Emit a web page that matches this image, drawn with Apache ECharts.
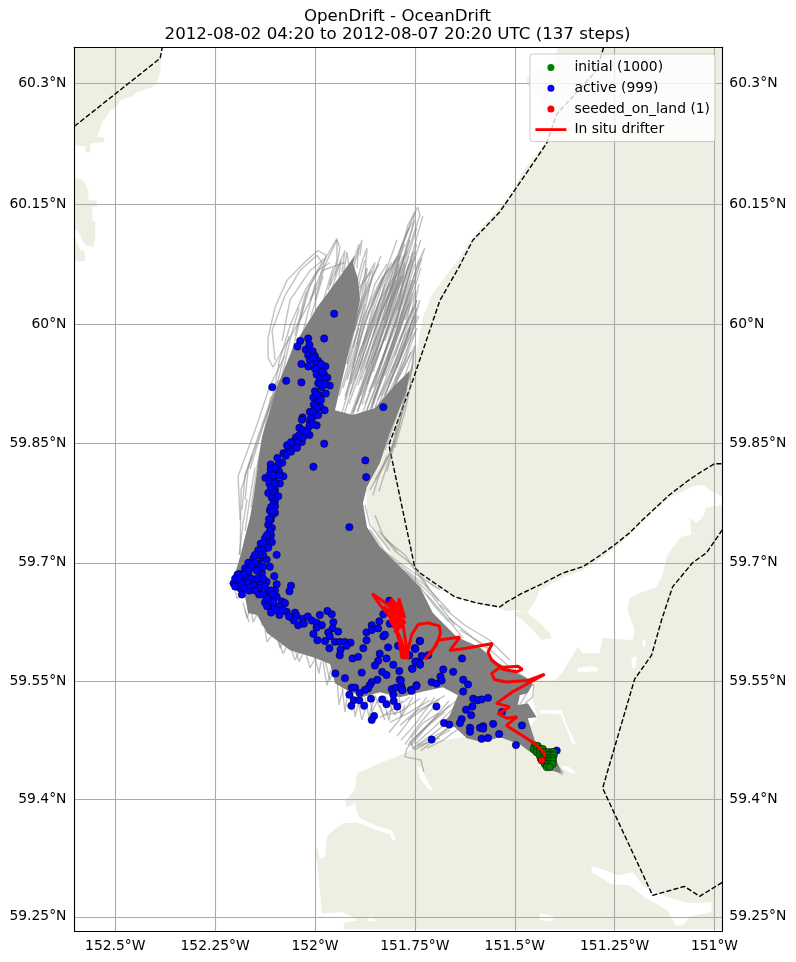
<!DOCTYPE html>
<html><head><meta charset="utf-8">
<style>html,body{margin:0;padding:0;background:#fff}#c{width:796px;height:962px}</style>
<script src="https://cdn.jsdelivr.net/npm/echarts@6/dist/echarts.min.js"></script>
</head><body><div id="c"></div>
<script>
const titleText = 'OpenDrift - OceanDrift\n2012-08-02 04:20 to 2012-08-07 20:20 UTC (137 steps)';
const lonTicks = [-152.5,-152.25,-152,-151.75,-151.5,-151.25,-151];
const lonTickLabels = ['152.5°W','152.25°W','152°W','151.75°W','151.5°W','151.25°W','151°W'];
const latTicks = [60.3,60.15,60,59.85,59.7,59.55,59.4,59.25];
const latTickLabels = ['60.3°N','60.15°N','60°N','59.85°N','59.7°N','59.55°N','59.4°N','59.25°N'];
const lonMin=-152.602, lonMax=-150.9805, latMin=59.2314, latMax=60.3446;

const land = [
 [[-152.602,60.3446],[-152.3825,60.3446],[-152.3875,60.316],[-152.395,60.3],[-152.4075,60.295],[-152.445,60.289],[-152.4625,60.283],[-152.4875,60.279],[-152.4975,60.27],[-152.5125,60.2665],[-152.52,60.26],[-152.5325,60.252],[-152.5375,60.244],[-152.545,60.233],[-152.5275,60.233],[-152.5275,60.227],[-152.5625,60.2256],[-152.5625,60.2144],[-152.575,60.2144],[-152.575,60.222],[-152.602,60.222]],
 [[-152.602,60.1834],[-152.58,60.1797],[-152.5675,60.1673],[-152.5675,60.155],[-152.545,60.1537],[-152.545,60.1475],[-152.5575,60.146],[-152.5575,60.13],[-152.55,60.1274],[-152.55,60.1086],[-152.555,60.096],[-152.575,60.0987],[-152.595,60.1174],[-152.602,60.1174]],
 [[-152.602,60.1086],[-152.5925,60.1],[-152.5875,60.0923],[-152.5775,60.0923],[-152.575,60.0785],[-152.602,60.0785]],
 [[-150.9805,60.3446],[-151.3925,60.3446],[-151.4,60.3285],[-151.4375,60.316],[-151.47,60.3074],[-151.47,60.2988],[-151.4375,60.285],[-151.4075,60.248],[-151.425,60.2256],[-151.4825,60.1884],[-151.505,60.1636],[-151.5375,60.146],[-151.605,60.1086],[-151.6375,60.0836],[-151.705,60.0384],[-151.73,60.0082],[-151.745,59.967],[-151.775,59.9234],[-151.8175,59.8512],[-151.8375,59.8298],[-151.87,59.792],[-151.87,59.7668],[-151.845,59.7328],[-151.805,59.7076],[-151.745,59.6886],[-151.705,59.6695],[-151.645,59.6568],[-151.58,59.6467],[-151.53,59.6416],[-151.4625,59.5895],[-151.455,59.5476],[-151.45,59.5387],[-151.455,59.526],[-151.4425,59.5044],[-151.4875,59.4752],[-151.63,59.479],[-151.73,59.4714],[-151.775,59.4587],[-151.805,59.4524],[-151.8325,59.4473],[-151.895,59.4333],[-151.9,59.4117],[-151.925,59.3987],[-151.92,59.3898],[-151.9,59.3949],[-151.895,59.3834],[-151.8825,59.3706],[-151.93,59.3694],[-151.9625,59.3566],[-151.97,59.3515],[-151.975,59.326],[-151.988,59.324],[-151.993,59.338],[-152.0,59.338],[-152.0,59.325],[-151.995,59.322],[-151.9825,59.2544],[-151.93,59.2557],[-151.905,59.2493],[-151.8925,59.2455],[-151.925,59.243],[-151.93,59.234],[-150.9805,59.234]]
];
const water = [
 [[-151.47,59.6365],[-151.45,59.6505],[-151.4375,59.6657],[-151.38,59.681],[-151.33,59.6911],[-151.295,59.7013],[-151.245,59.7202],[-151.205,59.7391],[-151.1625,59.7605],[-151.1125,59.782],[-151.055,59.7958],[-151.03,59.7984],[-151.005,59.7895],[-150.9805,59.7832],[-150.9805,59.7731],[-151.005,59.7706],[-151.02,59.7693],[-151.03,59.7567],[-151.045,59.7505],[-151.0625,59.7567],[-151.0575,59.7353],[-151.0825,59.7328],[-151.105,59.7189],[-151.12,59.7076],[-151.13,59.6848],[-151.145,59.6695],[-151.1875,59.6619],[-151.2125,59.6555],[-151.2175,59.6403],[-151.2,59.6149],[-151.205,59.6022],[-151.28,59.6048],[-151.2875,59.5857],[-151.33,59.5857],[-151.3425,59.5933],[-151.3625,59.5768],[-151.3825,59.5603],[-151.4,59.5514],[-151.455,59.5514],[-151.4875,59.5489],[-151.55,59.6377],[-151.5,59.6403]],
 [[-151.3425,59.5667],[-151.3125,59.5692],[-151.2925,59.5679],[-151.2925,59.5628],[-151.3425,59.5616]],
 [[-151.2075,59.5794],[-151.195,59.5819],[-151.1975,59.5667],[-151.2075,59.5667]],
 [[-151.18,59.6022],[-151.1725,59.6022],[-151.1725,59.5933],[-151.18,59.5933]],
 [[-151.4375,59.5133],[-151.3825,59.5133],[-151.3725,59.498],[-151.3475,59.4701],[-151.355,59.4701],[-151.385,59.5082],[-151.4375,59.5095]],
 [[-151.3825,59.4435],[-151.3625,59.4409],[-151.3475,59.4333],[-151.3575,59.4333],[-151.3825,59.4397]],
 [[-151.3075,59.3144],[-151.2875,59.3119],[-151.2425,59.303],[-151.205,59.3068],[-151.175,59.2876],[-151.1175,59.2749],[-151.0625,59.2672],[-151.0075,59.2685],[-151.0075,59.2557],[-151.0625,59.2506],[-151.0775,59.2391],[-151.0975,59.2391],[-151.1175,59.2583],[-151.175,59.2749],[-151.2125,59.2902],[-151.2575,59.2915],[-151.3075,59.3068]],
 [[-151.895,59.3796],[-151.8825,59.3745],[-151.8425,59.3655],[-151.8075,59.3604],[-151.7975,59.3476],[-151.805,59.3476],[-151.8125,59.3553],[-151.845,59.3604],[-151.8775,59.3668],[-151.8975,59.3706]],
 [[-151.745,59.4409],[-151.735,59.4409],[-151.7225,59.427],[-151.705,59.4117],[-151.71,59.4104],[-151.735,59.4244]],
 [[-151.4375,59.2544],[-151.405,59.2506],[-151.405,59.2442],[-151.4375,59.2455]],
 [[-151.8675,59.248],[-151.85,59.248],[-151.85,59.2442],[-151.8675,59.2442]]
];
const landBits = [
 [[-151.5,59.634],[-151.48,59.6276],[-151.45,59.6124],[-151.4325,59.6022],[-151.4075,59.6048],[-151.4125,59.6111],[-151.445,59.6276],[-151.47,59.6365],[-151.4825,59.6377],[-151.5,59.6377]]
];
const borders = [
 [[-152.602,60.2467],[-152.3875,60.331],[-152.3825,60.3446]],
 [[-151.2775,60.3446],[-151.295,60.316],[-151.395,60.2616],[-151.42,60.2256],[-151.505,60.1636],[-151.5375,60.14],[-151.605,60.1048],[-151.64,60.0709],[-151.6875,60.0295],[-151.755,59.9297],[-151.815,59.8487],[-151.7875,59.7832],[-151.75,59.6937],[-151.7375,59.6873],[-151.7125,59.6784],[-151.65,59.6568],[-151.595,59.6492],[-151.5375,59.6441],[-151.52,59.6505],[-151.48,59.6619],[-151.4375,59.672],[-151.38,59.687],[-151.33,59.695],[-151.295,59.7063],[-151.25,59.7227],[-151.2125,59.7378],[-151.18,59.7542],[-151.1125,59.7857],[-151.07,59.8021],[-151.0375,59.8134],[-151.0,59.8248],[-150.9805,59.8248]],
 [[-150.9805,59.7416],[-151.02,59.7126],[-151.055,59.7],[-151.105,59.6695],[-151.1325,59.6276],[-151.1575,59.5832],[-151.2,59.5527],[-151.28,59.4142],[-151.155,59.2774],[-151.075,59.2889],[-151.0375,59.2761],[-150.9805,59.294]]
];
const denseTrajectories = [
 [-151.9,60.086],[-151.905,60.076],[-151.8925,60.057],[-151.8875,60.03],[-151.9,59.998],[-151.925,59.946],[-151.95,59.892],[-151.905,59.886],[-151.85,59.895],[-151.8,59.9234],[-151.7625,59.942],[-151.7725,59.9147],[-151.8125,59.8637],[-151.8375,59.826],[-151.87,59.7954],[-151.88,59.7753],[-151.87,59.745],[-151.8375,59.7202],[-151.7875,59.695],[-151.7375,59.6695],[-151.705,59.6365],[-151.645,59.606],[-151.5875,59.5933],[-151.545,59.5743],[-151.47,59.554],[-151.455,59.5463],[-151.4675,59.535],[-151.4875,59.5324],[-151.4925,59.5197],[-151.4675,59.5222],[-151.445,59.5044],[-151.4675,59.5032],[-151.45,59.4752],[-151.425,59.46],[-151.3975,59.4524],[-151.3825,59.4333],[-151.4125,59.4371],[-151.45,59.4562],[-151.4875,59.4701],[-151.5375,59.479],[-151.58,59.4727],[-151.62,59.4778],[-151.65,59.4917],[-151.68,59.4968],[-151.6625,59.5069],[-151.6425,59.5324],[-151.68,59.5425],[-151.7375,59.5362],[-151.7875,59.5298],[-151.8375,59.5362],[-151.88,59.53],[-151.92,59.5387],[-151.95,59.5476],[-151.9625,59.5718],[-152.005,59.5806],[-152.0625,59.5895],[-152.12,59.6111],[-152.145,59.634],[-152.1675,59.6365],[-152.175,59.6568],[-152.2,59.6682],[-152.205,59.6784],[-152.1875,59.7076],[-152.1625,59.7579],[-152.155,59.7793],[-152.1325,59.8587],[-152.095,59.921],[-152.055,59.9708],[-151.995,60.0207],[-151.945,60.0546]
];
const tracks = [
 [[-151.925,59.867],[-151.825,60.005],[-151.7675,60.124],[-151.7425,60.146],[-151.7375,60.136],[-151.8,60.042],[-151.9075,59.886]],
 [[-151.9125,59.874],[-151.8375,59.992],[-151.7825,60.099],[-151.75,60.14],[-151.7575,60.117],[-151.8175,60.017],[-151.8925,59.89]],
 [[-151.9375,59.867],[-151.8675,59.992],[-151.8,60.077],[-151.7575,60.127]],
 [[-151.875,59.886],[-151.8,59.986],[-151.7375,60.082],[-151.725,60.095],[-151.75,60.061],[-151.8075,59.967],[-151.8575,59.899]],
 [[-151.8575,59.895],[-151.7875,59.992],[-151.7425,60.067],[-151.7325,60.082]],
 [[-151.8825,59.899],[-151.83,59.992],[-151.775,60.077],[-151.7875,60.03],[-151.85,59.923]],
 [[-151.925,59.905],[-151.875,60.005],[-151.825,60.061],[-151.7875,60.086],[-151.8075,60.048],[-151.8875,59.942]],
 [[-151.9125,59.93],[-151.8825,60.005],[-151.8425,60.048],[-151.8075,60.077]],
 [[-151.9,59.992],[-151.875,60.055],[-151.85,60.077],[-151.87,60.03],[-151.895,59.973]],
 [[-151.9125,60.017],[-151.8825,60.077],[-151.87,60.095],[-151.875,60.061],[-151.9075,59.998]],
 [[-151.925,60.03],[-151.8975,60.082],[-151.8825,60.105],[-151.8875,60.086]],
 [[-151.8425,59.905],[-151.775,59.979],[-151.7375,60.03],[-151.7575,59.992],[-151.825,59.911]],
 [[-151.825,59.911],[-151.7625,59.992],[-151.745,60.011],[-151.775,59.955],[-151.8125,59.911]],
 [[-151.8125,59.911],[-151.75,59.973],[-151.7575,59.942],[-151.8,59.892]],
 [[-151.775,59.936],[-151.7525,59.967],[-151.7625,59.923]],
 [[-151.8625,59.892],[-151.8075,59.973],[-151.7675,60.03],[-151.75,60.055]],
 [[-151.9375,59.88],[-151.8875,59.967],[-151.8375,60.03],[-151.8,60.061]],
 [[-151.9425,59.955],[-151.9125,60.03],[-151.8575,60.067]],
 [[-151.9125,59.911],[-151.8575,59.992],[-151.8125,60.042],[-151.7675,60.092]],
 [[-151.8725,59.942],[-151.8325,60.017],[-151.7875,60.07]],
 [[-151.7875,59.979],[-151.7575,60.017],[-151.7475,60.042],[-151.775,60.005]],
 [[-151.825,59.979],[-151.775,60.048],[-151.7575,60.08],[-151.7925,60.017]],
 [[-151.8575,59.967],[-151.8075,60.036],[-151.7625,60.105]],
 [[-151.8925,59.923],[-151.8425,60.005],[-151.7975,60.055],[-151.8275,60.005]],
 [[-152.1175,59.983],[-152.1,60.021],[-152.07,60.055],[-152.02,60.08],[-151.9925,60.092],[-151.9725,60.086],[-151.9925,60.048],[-152.0375,60.005],[-152.075,59.973],[-152.105,59.946],[-152.1175,59.958],[-152.1175,59.983]],
 [[-152.1,59.955],[-152.1075,59.992],[-152.075,60.036],[-152.0375,60.067],[-151.995,60.086],[-151.9825,60.077],[-152.025,60.042],[-152.0625,59.998],[-152.0925,59.948]],
 [[-152.0825,59.979],[-152.0625,60.03],[-152.0125,60.067],[-151.975,60.082]],
 [[-152.0375,60.005],[-152.0125,60.048],[-151.9625,60.092],[-151.945,60.107],[-151.945,60.08],[-151.9675,60.042]],
 [[-152,60.03],[-151.975,60.074],[-151.945,60.105],[-151.9375,60.096],[-151.95,60.061]],
 [[-151.9625,60.048],[-151.925,60.092],[-151.9325,60.065]],
 [[-152.0125,60.03],[-151.9825,60.067],[-151.925,60.077]],
 [[-152.05,59.986],[-152.025,60.036],[-151.9925,60.067],[-151.9625,60.077]],
 [[-152.1875,59.754],[-152.1925,59.809],[-152.15,59.867],[-152.1125,59.923],[-152.075,59.961]],
 [[-152.1825,59.767],[-152.175,59.811],[-152.1325,59.874],[-152.0925,59.93]],
 [[-152.175,59.779],[-152.1675,59.818],[-152.1175,59.892],[-152.075,59.942]],
 [[-152.1625,59.818],[-152.125,59.88],[-152.0875,59.93]],
 [[-152.1875,59.71],[-152.185,59.792],[-152.1575,59.836]],
 [[-152.1375,59.638],[-152.1325,59.621],[-152.1175,59.63]],
 [[-152.1,59.615],[-152.0875,59.592],[-152.075,59.609]],
 [[-152.0625,59.596],[-152.05,59.577],[-152.0375,59.589]],
 [[-152.025,59.589],[-152.0125,59.567],[-151.995,59.583]],
 [[-151.975,59.577],[-151.9625,59.551],[-151.95,59.57]],
 [[-151.9325,59.545],[-151.925,59.511],[-151.9175,59.539]],
 [[-151.9125,59.539],[-151.9075,59.513],[-151.895,59.532],[-151.8825,59.501],[-151.8675,59.526]],
 [[-151.8625,59.53],[-151.8575,59.511],[-151.8425,59.526]],
 [[-151.825,59.532],[-151.8,59.507],[-151.7825,59.526]],
 [[-151.85,59.532],[-151.825,59.501],[-151.8375,59.52]],
 [[-151.645,59.526],[-151.7125,59.498],[-151.77,59.465],[-151.775,59.454],[-151.735,59.45],[-151.7275,59.435]],
 [[-151.6625,59.52],[-151.725,59.491],[-151.7625,59.473],[-151.75,59.463],[-151.6625,59.488]],
 [[-151.675,59.511],[-151.7375,59.485],[-151.7675,59.469]],
 [[-151.65,59.506],[-151.7075,59.482],[-151.7575,59.465],[-151.6875,59.478]],
 [[-151.6375,59.498],[-151.6875,59.484],[-151.7425,59.469]],
 [[-151.6875,59.528],[-151.75,59.511],[-151.7875,59.494]],
 [[-151.7125,59.526],[-151.7625,59.511],[-151.8125,59.498]],
 [[-151.7375,59.528],[-151.7875,59.511],[-151.825,59.507]],
 [[-151.7625,59.53],[-151.8,59.516],[-151.8375,59.504]],
 [[-151.675,59.532],[-151.725,59.516],[-151.7675,59.501]],
 [[-151.825,59.704],[-151.7625,59.685],[-151.7075,59.659],[-151.65,59.621]],
 [[-151.85,59.723],[-151.7875,59.697],[-151.725,59.672],[-151.6625,59.638]],
 [[-151.8625,59.742],[-151.825,59.714],[-151.7575,59.689],[-151.6875,59.666]],
 [[-151.875,59.773],[-151.8625,59.748],[-151.8125,59.716]],
 [[-151.6875,59.647],[-151.625,59.621],[-151.5625,59.602],[-151.5125,59.577]],
 [[-151.6375,59.615],[-151.575,59.596],[-151.5175,59.57],[-151.4625,59.551]],
 [[-151.8625,59.792],[-151.825,59.824],[-151.8,59.855]],
 [[-151.85,59.805],[-151.8075,59.842],[-151.775,59.899]],
 [[-151.8,59.861],[-151.775,59.911],[-151.7575,59.948]],
 [[-151.825,59.842],[-151.7825,59.905],[-151.7625,59.936]],
 [[-151.4875,59.551],[-151.4525,59.545],[-151.455,59.53],[-151.475,59.522]],
 [[-151.5125,59.532],[-151.47,59.535],[-151.4875,59.52],[-151.5125,59.516]],
 [[-151.4175,59.45],[-151.3975,59.437],[-151.38,59.431]],
 [[-151.4075,59.452],[-151.3925,59.443],[-151.3775,59.433]],
 [[-151.905,59.89],[-151.85,59.96],[-151.8,60.03],[-151.765,60.085]],
 [[-151.895,59.89],[-151.835,59.97],[-151.785,60.04],[-151.755,60.09]],
 [[-151.88,59.89],[-151.825,59.965],[-151.775,60.035],[-151.75,60.075]],
 [[-151.87,59.892],[-151.81,59.97],[-151.765,60.04],[-151.74,60.08]],
 [[-151.86,59.893],[-151.8,59.975],[-151.76,60.03],[-151.735,60.07]],
 [[-151.85,59.895],[-151.79,59.975],[-151.75,60.025],[-151.74,60.05]],
 [[-151.84,59.9],[-151.785,59.965],[-151.745,60.02]],
 [[-151.83,59.905],[-151.775,59.97],[-151.74,60.01]],
 [[-151.82,59.91],[-151.77,59.96],[-151.745,59.995]],
 [[-151.81,59.915],[-151.76,59.965]],
 [[-151.915,59.9],[-151.865,59.97],[-151.82,60.04],[-151.79,60.075]],
 [[-151.925,59.91],[-151.88,59.975],[-151.835,60.045],[-151.8,60.08]],
 [[-151.93,59.92],[-151.89,59.985],[-151.85,60.05],[-151.82,60.075]],
 [[-151.94,59.93],[-151.9,59.995],[-151.865,60.05],[-151.84,60.075]],
 [[-151.92,59.95],[-151.895,60.01],[-151.86,60.065]],
 [[-151.93,59.965],[-151.9,60.03],[-151.875,60.08]],
 [[-151.9,59.93],[-151.86,59.99],[-151.83,60.03],[-151.81,60.05]],
 [[-151.885,59.93],[-151.845,59.985],[-151.81,60.03],[-151.78,60.06]],
 [[-151.87,59.925],[-151.83,59.98],[-151.795,60.03],[-151.77,60.065]],
 [[-151.855,59.92],[-151.815,59.975],[-151.78,60.02],[-151.76,60.055]],
 [[-151.84,59.925],[-151.8,59.98],[-151.765,60.025]],
 [[-151.825,59.935],[-151.785,59.985],[-151.755,60.02]],
 [[-151.81,59.94],[-151.775,59.985],[-151.75,60.01]],
 [[-151.8,59.93],[-151.765,59.975],[-151.75,59.99]],
 [[-151.885,59.91],[-151.82,59.99],[-151.78,60.05],[-151.745,60.1]],
 [[-151.865,59.915],[-151.81,59.985],[-151.765,60.06],[-151.735,60.105]],
 [[-151.84,59.965],[-151.79,60.03],[-151.75,60.1],[-151.73,60.135]],
 [[-151.86,59.95],[-151.81,60.02],[-151.77,60.08],[-151.745,60.12]],
 [[-151.89,59.96],[-151.84,60.02],[-151.8,60.07],[-151.775,60.1]],
 [[-151.8,59.96],[-151.77,60.005],[-151.76,60.03]],
 [[-151.895,59.9],[-151.86,59.95],[-151.82,60.005],[-151.785,60.06]],
 [[-151.875,59.9],[-151.84,59.945],[-151.8,60],[-151.77,60.05]],
 [[-151.855,59.905],[-151.82,59.95],[-151.785,60],[-151.755,60.04]],
 [[-151.835,59.91],[-151.8,59.95],[-151.77,59.995],[-151.745,60.03]],
 [[-151.815,59.925],[-151.785,59.96],[-151.76,59.995]],
 [[-151.91,59.925],[-151.875,59.975],[-151.845,60.02],[-151.825,60.05]],
 [[-151.92,59.93],[-151.885,59.985],[-151.855,60.03],[-151.83,60.06]],
 [[-151.905,59.945],[-151.875,60],[-151.845,60.04],[-151.815,60.07]],
 [[-151.89,59.945],[-151.855,60],[-151.825,60.05],[-151.795,60.085]],
 [[-151.875,59.945],[-151.84,59.995],[-151.805,60.05],[-151.78,60.085]],
 [[-151.855,59.94],[-151.825,59.985],[-151.79,60.045],[-151.765,60.075]],
 [[-151.835,59.95],[-151.8,60],[-151.77,60.05],[-151.75,60.085]],
 [[-151.82,59.955],[-151.785,60.01],[-151.755,60.055]],
 [[-151.795,59.945],[-151.765,59.99],[-151.745,60.03]],
 [[-151.905,59.97],[-151.88,60.02],[-151.855,60.06],[-151.835,60.085]],
 [[-151.88,59.975],[-151.85,60.03],[-151.82,60.07],[-151.795,60.105]],
 [[-151.855,59.985],[-151.825,60.035],[-151.79,60.09],[-151.765,60.12]],
 [[-151.825,59.995],[-151.795,60.05],[-151.77,60.1],[-151.75,60.13]],
 [[-151.8,59.995],[-151.775,60.04],[-151.75,60.09]],
 [[-151.915,59.985],[-151.895,60.03],[-151.87,60.07]],
 [[-151.93,60.06],[-151.92,60.09],[-151.915,60.07]],
 [[-151.915,60.06],[-151.89,60.1],[-151.895,60.07]],
 [[-151.96,60.04],[-151.935,60.08],[-151.94,60.06]],
 [[-151.985,60.02],[-151.955,60.07],[-151.965,60.05]],
 [[-152.01,60.01],[-151.98,60.06]],
 [[-152.03,59.99],[-152,60.05],[-152.01,60.03]],
 [[-152.06,59.96],[-152.035,60.01],[-152.02,60.04]],
 [[-152.085,59.93],[-152.06,59.985],[-152.04,60.02]],
 [[-152.11,59.89],[-152.085,59.945],[-152.065,59.985]],
 [[-152.13,59.85],[-152.105,59.91],[-152.09,59.95]],
 [[-152.145,59.82],[-152.125,59.87],[-152.11,59.91]],
 [[-152.16,59.77],[-152.145,59.82],[-152.13,59.86]],
 [[-152.175,59.74],[-152.165,59.775],[-152.15,59.82]],
 [[-152.19,59.71],[-152.18,59.75],[-152.17,59.78]],
 [[-151.9,60],[-151.875,60.04],[-151.87,60.07]],
 [[-151.91,59.98],[-151.885,60.02],[-151.865,60.05]],
 [[-151.92,59.95],[-151.895,59.99],[-151.875,60.025]],
 [[-151.94,59.91],[-151.91,59.96],[-151.89,59.995]],
 [[-152.16,59.64],[-152.155,59.625],[-152.145,59.635]],
 [[-152.125,59.615],[-152.12,59.6],[-152.105,59.61]],
 [[-152.09,59.6],[-152.08,59.585],[-152.07,59.595]],
 [[-152.05,59.59],[-152.04,59.575],[-152.03,59.585]],
 [[-152,59.58],[-151.99,59.56],[-151.985,59.575]],
 [[-151.98,59.575],[-151.97,59.545],[-151.96,59.565]],
 [[-151.945,59.555],[-151.94,59.52],[-151.93,59.54]],
 [[-151.905,59.535],[-151.9,59.505],[-151.89,59.525]],
 [[-151.875,59.53],[-151.865,59.505],[-151.85,59.53]],
 [[-151.83,59.53],[-151.815,59.5],[-151.805,59.525]],
 [[-151.79,59.53],[-151.785,59.505],[-151.775,59.52]],
 [[-152.2,59.665],[-152.195,59.655],[-152.18,59.66]],
 [[-152.18,59.65],[-152.17,59.63],[-152.16,59.645]],
 [[-152.175,59.64],[-152.165,59.625]],
 [[-151.755,59.53],[-151.79,59.5],[-151.815,59.485]],
 [[-151.72,59.53],[-151.765,59.5],[-151.795,59.48]],
 [[-151.7,59.53],[-151.75,59.495],[-151.785,59.475]],
 [[-151.69,59.525],[-151.74,59.495],[-151.775,59.47]],
 [[-151.665,59.525],[-151.715,59.495],[-151.76,59.468]],
 [[-151.655,59.515],[-151.705,59.49],[-151.75,59.47]],
 [[-151.65,59.5],[-151.695,59.478],[-151.735,59.462]],
 [[-151.64,59.49],[-151.68,59.475],[-151.72,59.465]],
 [[-151.69,59.51],[-151.73,59.497],[-151.76,59.478]],
 [[-151.84,59.74],[-151.8,59.715],[-151.75,59.695],[-151.715,59.668]],
 [[-151.825,59.73],[-151.775,59.71],[-151.735,59.68],[-151.69,59.652]],
 [[-151.8,59.7],[-151.745,59.675],[-151.7,59.645],[-151.665,59.625]],
 [[-151.72,59.66],[-151.67,59.63],[-151.63,59.605]],
 [[-151.665,59.63],[-151.605,59.605],[-151.565,59.59]],
 [[-151.85,59.76],[-151.83,59.735],[-151.795,59.715]],
 [[-151.855,59.785],[-151.84,59.81],[-151.82,59.835]],
 [[-151.84,59.79],[-151.815,59.83],[-151.795,59.87]],
 [[-151.82,59.815],[-151.79,59.87],[-151.77,59.92]],
 [[-151.8,59.845],[-151.775,59.89],[-151.76,59.925]],
 [[-151.6,59.595],[-151.54,59.57],[-151.49,59.555],[-151.45,59.55]]
];
const drifter = [
 [-151.425,59.454],[-151.427,59.46],[-151.45,59.471],[-151.521,59.494],[-151.494,59.505],[-151.519,59.503],[-151.542,59.509],[-151.5125,59.5175],[-151.546,59.522],[-151.504,59.537],[-151.425,59.559],[-151.467,59.551],[-151.521,59.549],[-151.55,59.552],[-151.558,59.56],[-151.5375,59.5675],[-151.492,59.569],[-151.481,59.565],[-151.496,59.562],[-151.529,59.565],[-151.558,59.577],[-151.567,59.587],[-151.556,59.598],[-151.621,59.592],[-151.6625,59.589],[-151.6375,59.606],[-151.692,59.602],[-151.708,59.587],[-151.725,59.578],[-151.696,59.596],[-151.686,59.611],[-151.689,59.62],[-151.717,59.624],[-151.742,59.622],[-151.758,59.609],[-151.771,59.582],[-151.775,59.58],[-151.7875,59.606],[-151.8125,59.632],[-151.8375,59.647],[-151.857,59.661],[-151.829,59.651],[-151.796,59.638],[-151.779,59.619],[-151.767,59.58],[-151.783,59.58],[-151.792,59.611],[-151.8125,59.628],[-151.8,59.619],[-151.777,59.581],[-151.8125,59.6445],[-151.783,59.6425],[-151.7875,59.623],[-151.804,59.636],[-151.829,59.6445],[-151.796,59.632],[-151.779,59.636],[-151.804,59.647],[-151.815,59.65],[-151.785,59.625],[-151.8,59.65],[-151.775,59.63],[-151.79,59.655],[-151.79,59.62],[-151.81,59.64],[-151.775,59.625],[-151.8,59.612],[-151.785,59.64],[-151.81,59.655],[-151.79,59.63]
];
const initial = [
 [-151.45,59.468],[-151.4425,59.468],[-151.4525,59.464],[-151.445,59.464],[-151.4375,59.464],[-151.43,59.464],
 [-151.445,59.46],[-151.4375,59.46],[-151.43,59.46],[-151.4225,59.46],[-151.415,59.46],[-151.4075,59.46],[-151.4025,59.46],
 [-151.4375,59.456],[-151.43,59.456],[-151.4225,59.456],[-151.415,59.456],[-151.4075,59.456],[-151.4025,59.456],
 [-151.435,59.452],[-151.4275,59.452],[-151.42,59.452],[-151.4125,59.452],[-151.405,59.452],
 [-151.4275,59.449],[-151.42,59.449],[-151.4125,59.449],[-151.405,59.449],
 [-151.425,59.445],[-151.4175,59.445],[-151.41,59.445],[-151.405,59.445],
 [-151.42,59.441],[-151.4125,59.441]
];
const active = [
 [-151.952,60.013],[-152.037,59.979],[-152.017,59.982],[-151.977,59.982],[-152.044,59.972],[-152.023,59.968],[-152.014,59.974],[-152.006,59.966],[-152.017,59.961],[-152,59.96],[-152.013,59.955],[-151.992,59.954],[-151.998,59.951],[-152.034,59.95],[-152.017,59.947],[-151.974,59.947],[-152,59.944],[-151.988,59.941],[-151.996,59.937],[-151.978,59.938],[-151.969,59.933],[-151.988,59.932],[-151.975,59.931],[-151.992,59.926],[-151.963,59.923],[-152.034,59.927],[-152.072,59.929],[-152.107,59.921],[-152,59.916],[-151.983,59.921],[-151.988,59.911],[-151.973,59.913],[-152.004,59.908],[-151.992,59.902],[-152.003,59.899],[-151.986,59.896],[-151.976,59.892],[-152.013,59.89],[-152.002,59.885],[-151.992,59.886],[-152.013,59.878],[-152.031,59.883],[-152.033,59.88],[-152.014,59.872],[-151.996,59.873],[-152.039,59.87],[-152.031,59.867],[-152.014,59.861],[-152.048,59.858],[-152.039,59.861],[-152.053,59.852],[-152.033,59.852],[-152.044,59.851],[-152.066,59.847],[-152.053,59.845],[-151.977,59.85],[-152.067,59.842],[-152.079,59.838],[-152.073,59.835],[-152.094,59.832],[-152.082,59.826],[-152.111,59.824],[-152.092,59.823],[-152.004,59.821],[-152.111,59.818],[-152.079,59.809],[-152.096,59.811],[-152.124,59.807],[-152.113,59.811],[-152.104,59.805],[-152.096,59.8],[-152.114,59.8],[-152.088,59.8],[-151.874,59.829],[-151.872,59.808],[-151.829,59.896],[-152.117,59.788],[-152.1,59.792],[-152.108,59.782],[-152.092,59.784],
 [-152.1,59.778],[-152.104,59.774],[-152.1,59.771],[-152.113,59.766],[-152.1,59.763],[-152.108,59.759],[-152.111,59.754],[-152.117,59.748],[-152.108,59.744],[-152.113,59.74],[-152.125,59.731],[-152.113,59.73],[-152.108,59.726],[-152.136,59.724],[-152.121,59.723],[-152.129,59.717],[-152.142,59.716],[-152.117,59.719],[-152.096,59.71],[-151.914,59.745],[-152.154,59.706],[-152.167,59.7],[-152.133,59.706],[-152.121,59.704],[-152.175,59.693],[-152.154,59.693],[-152.113,59.695],[-152.139,59.698],[-152.188,59.686],[-152.167,59.686],[-152.133,59.687],[-152.194,59.685],[-152.179,59.678],[-152.204,59.674],[-152.196,59.678],[-152.154,59.678],[-152.138,59.672],[-152.121,59.676],[-152.102,59.683],[-152.096,59.673],[-152.192,59.67],[-152.188,59.668],[-152.183,59.66],[-152.154,59.671],[-152.138,59.668],[-152.117,59.664],[-152.1,59.665],[-152.06,59.671],[-152.064,59.664],[-152.113,59.656],[-152.125,59.65],[-152.096,59.657],[-152.083,59.651],[-152.113,59.644],[-152.1,59.643],[-152.075,59.649],[-152.088,59.644],[-152.071,59.638],[-152.089,59.634],[-152.05,59.637],[-152.046,59.633],[-152.058,59.631],[-152.053,59.627],[-152.031,59.629],[-152.042,59.621],[-152.028,59.623],[-152.018,59.632],[-152.008,59.627],[-151.996,59.624],[-151.988,59.634],[-151.969,59.639],[-151.958,59.635],[-151.954,59.625],[-151.983,59.621],[-151.996,59.618],[-151.956,59.617],[-151.942,59.613],[-152.004,59.61],[-151.967,59.612],[-151.994,59.602],[-151.975,59.601],[-151.963,59.607],[-151.95,59.6],[-151.938,59.6],[-151.925,59.6],[-151.911,59.599],[-151.921,59.595],[-151.964,59.592],[-151.936,59.59],[-151.938,59.583],[-151.906,59.579],[-151.892,59.581],[-151.879,59.592],[-151.949,59.56],[-151.925,59.554],[-151.883,59.561],[-151.871,59.602],[-151.871,59.612],[-151.858,59.621],[-151.858,59.615],[-151.839,59.626],[-151.842,59.617],[-151.829,59.635],[-151.814,59.652],[-151.813,59.623],[-151.829,59.607],[-151.825,59.609],[-151.838,59.585],[-151.817,59.593],[-151.842,59.576],[-151.85,59.57],[-151.821,59.579],[-151.804,59.571],[-151.832,59.562],[-151.821,59.558],[-151.789,59.563],[-151.844,59.552],[-151.788,59.552],[-151.858,59.549],[-151.863,59.545],[-151.867,59.541],[-151.875,59.539],[-151.888,59.535],[-151.908,59.542],[-151.9,59.542],[-151.914,59.533],[-151.903,59.526],[-151.889,59.526],[-151.909,59.519],[-151.877,59.519],[-151.86,59.528],[-151.832,59.527],[-151.821,59.521],[-151.804,59.533],[-151.803,59.525],[-151.794,59.518],[-151.808,59.54],[-151.798,59.542],[-151.784,59.544],[-151.782,59.539],[-151.76,59.539],[-151.746,59.545],[-151.852,59.506],[-151.858,59.501],[-151.757,59.566],[-151.767,59.583],[-151.75,59.592],[-151.746,59.575],[-151.738,59.573],[-151.792,59.595],[-151.793,59.621],[-151.803,59.623],[-151.738,59.601],
 [-151.737,59.601],[-151.749,59.591],[-151.764,59.583],[-151.733,59.582],[-151.749,59.575],[-151.737,59.571],[-151.756,59.566],[-151.717,59.583],[-151.632,59.579],[-151.679,59.565],[-151.654,59.562],[-151.686,59.556],[-151.683,59.551],[-151.708,59.549],[-151.696,59.547],[-151.629,59.552],[-151.617,59.546],[-151.746,59.544],[-151.758,59.538],[-151.781,59.539],[-151.785,59.551],[-151.629,59.537],[-151.604,59.528],[-151.593,59.526],[-151.583,59.527],[-151.567,59.529],[-151.606,59.518],[-151.622,59.514],[-151.696,59.518],[-151.609,59.507],[-151.633,59.502],[-151.637,59.497],[-151.677,59.497],[-151.664,59.495],[-151.612,59.491],[-151.612,59.486],[-151.587,59.491],[-151.579,59.493],[-151.579,59.49],[-151.554,59.496],[-151.532,59.511],[-151.482,59.494],[-151.539,59.483],[-151.583,59.477],[-151.567,59.478],[-151.708,59.476],[-151.497,59.469],[-151.395,59.462],
 [-152.15,59.7],[-152.16,59.695],[-152.145,59.69],[-152.17,59.69],[-152.18,59.685],[-152.16,59.68],[-152.145,59.68],[-152.13,59.68],[-152.17,59.675],[-152.185,59.675],[-152.2,59.68],[-152.19,59.68],[-152.2,59.67],[-152.15,59.665],[-152.13,59.695],[-152.125,59.67],[-152.11,59.665],[-152.105,59.66],[-152.12,59.655],[-152.105,59.65],[-152.09,59.645],[-152.12,59.645],[-152.11,59.637],[-152.095,59.64],[-152.08,59.64],[-152.065,59.632],[-152.175,59.668],[-152.165,59.665],[-152.14,59.66],[-152.13,59.66],
 [-152.105,59.79],[-152.11,59.795],[-152.1,59.8],[-152.105,59.81],[-152.09,59.815],[-152.1,59.82],[-152.09,59.81],[-152.11,59.77],[-152.105,59.765],[-152.115,59.755],[-152.11,59.735],[-152.12,59.735],[-152.13,59.725],[-152.13,59.71],[-152.14,59.71],[-152.15,59.71],
 [-152.005,59.958],[-151.995,59.945],[-151.985,59.95],[-151.982,59.94],[-151.985,59.925],[-151.975,59.925],[-151.995,59.912],[-151.985,59.905],[-151.995,59.895],[-152.005,59.89],[-152.01,59.882],[-152.005,59.875],[-152.02,59.865],[-152.03,59.858],[-152.045,59.845],[-152.06,59.84],[-152.07,59.848],[-152.06,59.852]
];
const seededOnLand = [[-151.4325,59.4495]];

const D2R=Math.PI/180;
const merc = lat => Math.log(Math.tan(Math.PI/4+lat*D2R/2))/D2R;
const proj = p => [p[0], merc(p[1])];
const FONT='"DejaVu Sans"';
const labelStyle={fontFamily:FONT,fontSize:13.89,color:'#000'};

function polygonSeries(polys,color,z){
  return {type:'custom',coordinateSystem:'cartesian2d',silent:true,z:z,clip:false,
    data:polys.map((p,i)=>[p[0][0],merc(p[0][1]),i]),
    encode:{x:0,y:1},
    renderItem:(params,api)=>{
      const i=api.value(2);
      return {type:'polygon',shape:{points:polys[i].map(p=>api.coord(proj(p)))},style:{fill:color}};
    }};
}
const trackSeries=tracks.map(t=>({type:'line',data:t.map(proj),symbol:'none',silent:true,z:2,
  lineStyle:{color:'rgba(128,128,128,0.48)',width:1.4}}));
const borderSeries=borders.map(t=>({type:'line',data:t.map(proj),symbol:'none',silent:true,z:1,
  lineStyle:{color:'#000',width:1.4,type:[5.1,2.2]}}));
const dotStyle=c=>({color:c,borderColor:'#000',borderWidth:0.5,opacity:1});

const latCustom=latTicks.map(merc);
const xFmt=v=>{let b=0;lonTicks.forEach((t,i)=>{if(Math.abs(t-v)<Math.abs(lonTicks[b]-v))b=i});return lonTickLabels[b]};
const yFmt=v=>{let b=0;latCustom.forEach((t,i)=>{if(Math.abs(t-v)<Math.abs(latCustom[b]-v))b=i});return latTickLabels[b]};
const gridLine={show:true,lineStyle:{color:'#aaaaaa',width:1.1}};
const spine={show:true,onZero:false,lineStyle:{color:'#000',width:1.1}};

const chart=echarts.init(document.getElementById('c'),null,{renderer:'canvas'});
chart.setOption({
  animation:false,
  backgroundColor:'#fff',
  title:{text:titleText,left:392.5,top:3,textAlign:'center',
    textStyle:{fontFamily:FONT,fontSize:16.67,fontWeight:'normal',color:'#000',lineHeight:18}},
  grid:{left:74.5,right:796-722.3,top:47.3,bottom:962-931.3,containLabel:false},
  xAxis:[
    {type:'value',position:'bottom',min:lonMin,max:lonMax,axisLine:spine,axisTick:{show:false,customValues:lonTicks},
     axisLabel:{...labelStyle,customValues:lonTicks,formatter:xFmt,margin:8,hideOverlap:false,showMinLabel:true,showMaxLabel:true},splitLine:gridLine},
    {type:'value',position:'top',min:lonMin,max:lonMax,axisLine:spine,axisTick:{show:false},axisLabel:{show:false},splitLine:{show:false}}
  ],
  yAxis:[
    {type:'value',position:'left',min:merc(latMin),max:merc(latMax),axisLine:spine,axisTick:{show:false,customValues:latCustom},
     axisLabel:{...labelStyle,customValues:latCustom,formatter:yFmt,margin:8,padding:[4,0,0,0]},splitLine:gridLine},
    {type:'value',position:'right',min:merc(latMin),max:merc(latMax),axisLine:spine,axisTick:{show:false,customValues:latCustom},
     axisLabel:{...labelStyle,customValues:latCustom,formatter:yFmt,margin:7,padding:[4,0,0,0]},splitLine:{show:false}}
  ],
  legend:{orient:'vertical',left:530,top:54,z:20,selectedMode:false,
    padding:[6.5,5,5,4],itemWidth:31,itemHeight:7,itemGap:6.7,
    backgroundColor:'rgba(255,255,255,0.8)',borderColor:'#cccccc',borderWidth:1,borderRadius:3,
    textStyle:{fontFamily:FONT,fontSize:13.89,color:'#000',padding:[0,0,0,3],lineHeight:14},
    data:[
      {name:'initial (1000)',icon:'circle',itemStyle:{color:'#008000',borderWidth:0}},
      {name:'active (999)',icon:'circle',itemStyle:{color:'#0000ff',borderWidth:0}},
      {name:'seeded_on_land (1)',icon:'circle',itemStyle:{color:'#ff0000',borderWidth:0}},
      {name:'In situ drifter',itemStyle:{opacity:0},lineStyle:{color:'#ff0000',width:2.8}}
    ]},
  series:[
    polygonSeries(land,'#eeeee3',-2),
    polygonSeries(water,'#ffffff',-2),
    polygonSeries(landBits,'#eeeee3',-2),
    ...borderSeries,
    polygonSeries([denseTrajectories],'#808080',2),
    ...trackSeries,
    {name:'initial (1000)',type:'scatter',data:initial.map(proj),symbolSize:7.4,z:5,silent:true,itemStyle:dotStyle('#008000')},
    {name:'active (999)',type:'scatter',data:active.map(proj),symbolSize:7.4,z:4,silent:true,itemStyle:dotStyle('#0000ff')},
    {name:'In situ drifter',type:'line',data:drifter.map(proj),symbol:'none',z:6,silent:true,
      lineStyle:{color:'#ff0000',width:3},itemStyle:{color:'#ff0000'}},
    {name:'seeded_on_land (1)',type:'scatter',data:seededOnLand.map(proj),symbolSize:7.4,z:7,silent:true,itemStyle:dotStyle('#ff0000')}
  ]
});
</script></body></html>
